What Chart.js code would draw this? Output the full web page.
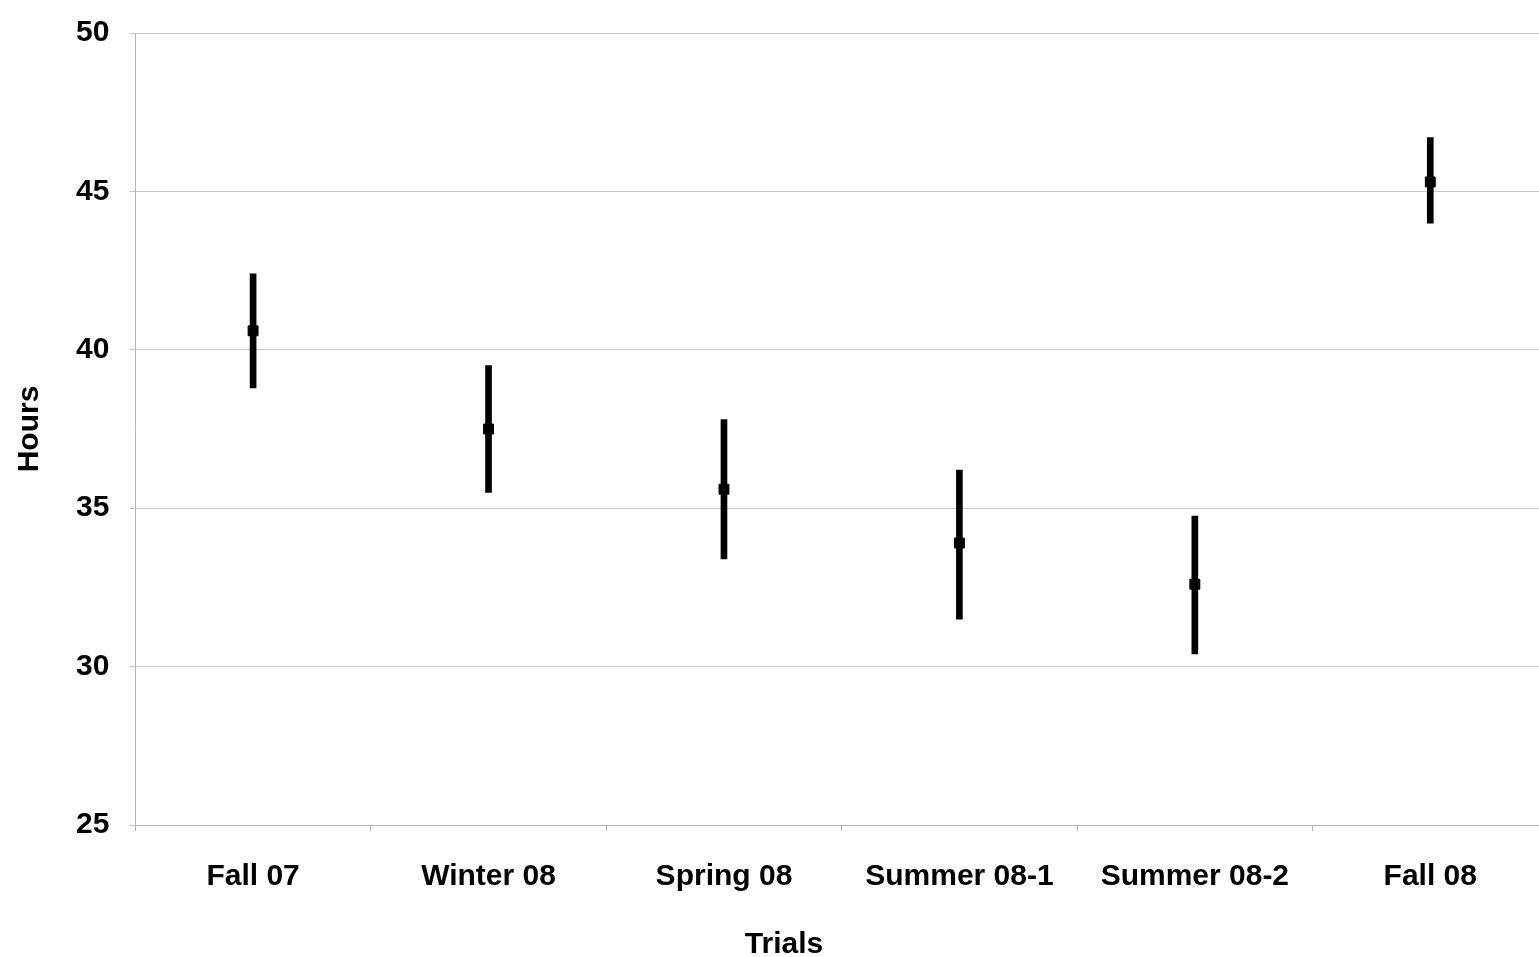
<!DOCTYPE html>
<html>
<head>
<meta charset="utf-8">
<title>Hours by Trial</title>
<script src="https://cdn.jsdelivr.net/npm/chart.js@4/dist/chart.umd.min.js"></script>
<style>
  html, body { margin: 0; padding: 0; background: #fff; overflow: hidden; }
  #wrap { width: 1556px; height: 968px; margin-top: -5px; }
</style>
</head>
<body>
<div id="wrap"><canvas id="c"></canvas></div>
<script>
// Trial periods and the mean hours with their error ranges
const trials = ['Fall 07', 'Winter 08', 'Spring 08', 'Summer 08-1', 'Summer 08-2', 'Fall 08'];
const meanHours = [40.6, 37.5, 35.6, 33.9, 32.6, 45.3];
const lowHours  = [38.8, 35.5, 33.4, 31.5, 30.4, 44.0];
const highHours = [42.4, 39.5, 37.8, 36.2, 34.75, 46.7];
const yTicks = [25, 30, 35, 40, 45, 50];

const ranges = trials.map((_, i) => [lowHours[i], highHours[i]]);
const labelFont = { family: '"Liberation Sans", Arial, sans-serif', size: 30, weight: 'bold' };

new Chart(document.getElementById('c'), {
  type: 'bar',
  data: {
    labels: trials,
    datasets: [
      {
        type: 'line',
        label: 'Mean',
        data: meanHours,
        showLine: false,
        pointStyle: 'rect',
        pointRadius: 7,
        pointBackgroundColor: '#000',
        pointBorderColor: '#000',
        order: 0
      },
      {
        label: 'Range',
        data: ranges,
        backgroundColor: '#000',
        borderWidth: 0,
        barThickness: 6,
        order: 1
      }
    ]
  },
  options: {
    responsive: true,
    maintainAspectRatio: false,
    animation: false,
    layout: { padding: { top: 13, right: 0, left: 12, bottom: 0 } },
    plugins: {
      legend: { display: false },
      tooltip: { enabled: false },
      title: {
        display: true,
        position: 'bottom',
        text: 'Trials',
        color: '#000',
        font: labelFont,
        padding: { top: 4, bottom: 0 }
      }
    },
    scales: {
      x: {
        offset: true,
        grid: {
          offset: true,
          drawOnChartArea: false,
          drawTicks: true,
          tickLength: 6,
          color: '#b5b5b5'
        },
        border: { color: '#b5b5b5', width: 1 },
        ticks: { color: '#000', font: labelFont, padding: 28, maxRotation: 0 }
      },
      y: {
        min: 25,
        max: 50,
        afterBuildTicks: (axis) => { axis.ticks = yTicks.map(v => ({ value: v })); },
        grid: { color: '#c8c8c8', lineWidth: 1, tickLength: 6 },
        border: { color: '#b5b5b5', width: 1 },
        ticks: { color: '#000', font: labelFont, padding: 20 },
        title: {
          display: true,
          text: 'Hours',
          color: '#000',
          font: labelFont,
          padding: { top: 0, bottom: 8 }
        }
      }
    }
  }
});
</script>
</body>
</html>
